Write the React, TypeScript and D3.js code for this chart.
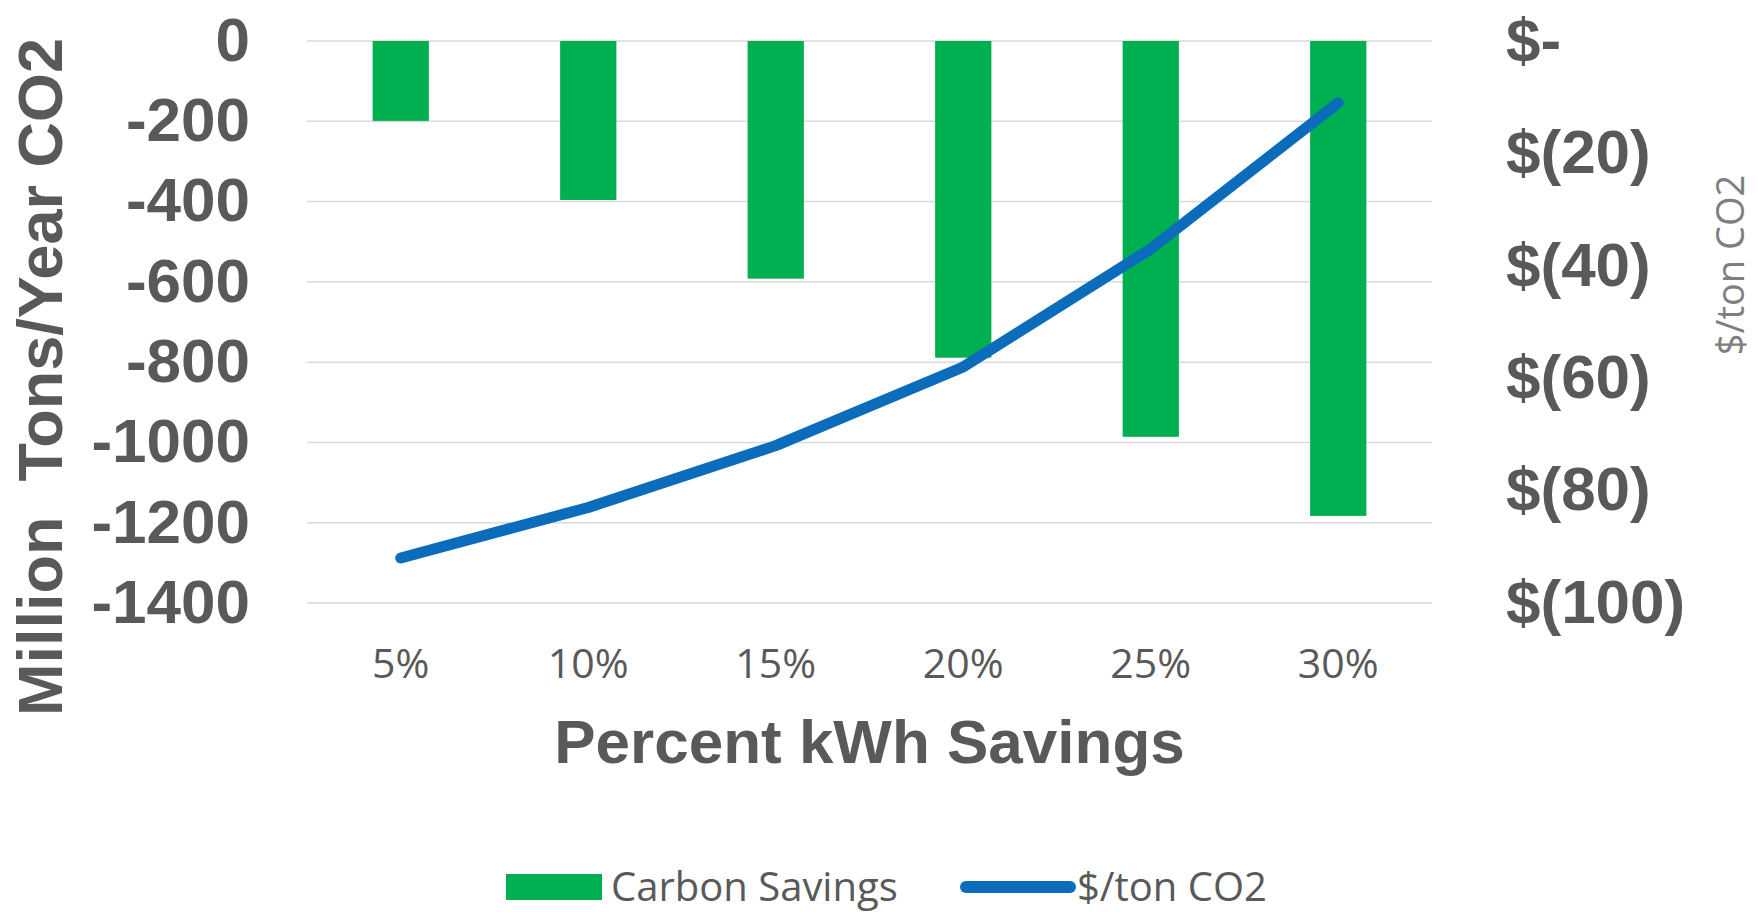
import React from "react";
import * as d3 from "d3";

const categories = ["5%", "10%", "15%", "20%", "25%", "30%"];
const carbonSavings = [-199, -396, -592, -789, -986, -1183];
const costPerTon = [-92, -83, -72, -58, -37, -11];
const leftTicks = [0, -200, -400, -600, -800, -1000, -1200, -1400];
const rightTicks = [0, -20, -40, -60, -80, -100];
const leftTitle = "Million  Tons/Year CO2";
const rightTitle = "$/ton CO2";
const xTitle = "Percent kWh Savings";
const legendLabels = ["Carbon Savings", "$/ton CO2"];

const W = 1763;
const H = 912;
const PLOT = { left: 307, right: 1432, top: 41, bottom: 603 };
const GREEN = "#00B050";
const BLUE = "#0A6CBB";
const TXT = "#595959";
const BOLD = "'Liberation Sans', Arial, sans-serif";
const THIN = "'Open Sans', 'Noto Sans', sans-serif";

const fmtRight = (v: number) => (v === 0 ? "$-" : `$(${Math.abs(v)})`);

export default function App() {
  const x = d3
    .scaleBand<string>()
    .domain(categories)
    .range([PLOT.left, PLOT.right])
    .paddingInner(0.7)
    .paddingOuter(0.35);
  const yL = d3.scaleLinear().domain([-1400, 0]).range([PLOT.bottom, PLOT.top]);
  const yR = d3.scaleLinear().domain([-100, 0]).range([PLOT.bottom, PLOT.top]);
  const cx = (c: string) => (x(c) as number) + x.bandwidth() / 2;

  const line = d3
    .line<number>()
    .x((_, i) => cx(categories[i]))
    .y((d) => yR(d));

  return (
    <svg
      width={W}
      height={H}
      style={{ position: "absolute", left: 0, top: 0, background: "#fff" }}
    >
      {leftTicks.map((t) => (
        <line
          key={"g" + t}
          x1={PLOT.left}
          x2={PLOT.right}
          y1={yL(t)}
          y2={yL(t)}
          stroke="#D9D9D9"
          strokeWidth={1.5}
        />
      ))}
      {categories.map((c, i) => (
        <rect
          key={"b" + c}
          x={x(c)}
          y={yL(0)}
          width={x.bandwidth()}
          height={yL(carbonSavings[i]) - yL(0)}
          fill={GREEN}
        />
      ))}
      <path
        d={line(costPerTon) || ""}
        fill="none"
        stroke={BLUE}
        strokeWidth={11}
        strokeLinecap="round"
        strokeLinejoin="round"
      />
      {leftTicks.map((t) => (
        <text
          key={"l" + t}
          x={250}
          y={yL(t)}
          dy="0.32em"
          textAnchor="end"
          fontFamily={BOLD}
          fontWeight="bold"
          fontSize={62}
          fill={TXT}
        >
          {t}
        </text>
      ))}
      {rightTicks.map((t) => (
        <text
          key={"r" + t}
          x={1506}
          y={yR(t)}
          dy="0.32em"
          textAnchor="start"
          fontFamily={BOLD}
          fontWeight="bold"
          fontSize={62}
          fill={TXT}
        >
          {fmtRight(t)}
        </text>
      ))}
      {categories.map((c) => (
        <text
          key={"x" + c}
          x={cx(c)}
          y={678}
          textAnchor="middle"
          fontFamily={THIN}
          fontSize={41}
          fill={TXT}
        >
          {c}
        </text>
      ))}
      <text
        x={(PLOT.left + PLOT.right) / 2}
        y={763}
        textAnchor="middle"
        fontFamily={BOLD}
        fontWeight="bold"
        fontSize={62}
        fill={TXT}
      >
        {xTitle}
      </text>
      <text
        transform={`translate(62, 377) rotate(-90)`}
        textAnchor="middle"
        fontFamily={BOLD}
        fontWeight="bold"
        fontSize={63}
        fill={TXT}
        style={{ whiteSpace: "pre" }}
      >
        {leftTitle}
      </text>
      <text
        transform={`translate(1744, 265) rotate(-90)`}
        textAnchor="middle"
        fontFamily={THIN}
        fontSize={38}
        fill="#7F7F7F"
      >
        {rightTitle}
      </text>
      <g>
        <rect x={506} y={874} width={96} height={26} fill={GREEN} />
        <text x={611} y={901} fontFamily={THIN} fontSize={40} fill={TXT}>
          {legendLabels[0]}
        </text>
        <line
          x1={966}
          x2={1070}
          y1={887}
          y2={887}
          stroke={BLUE}
          strokeWidth={12}
          strokeLinecap="round"
        />
        <text x={1077} y={901} fontFamily={THIN} fontSize={40} fill={TXT}>
          {legendLabels[1]}
        </text>
      </g>
    </svg>
  );
}
